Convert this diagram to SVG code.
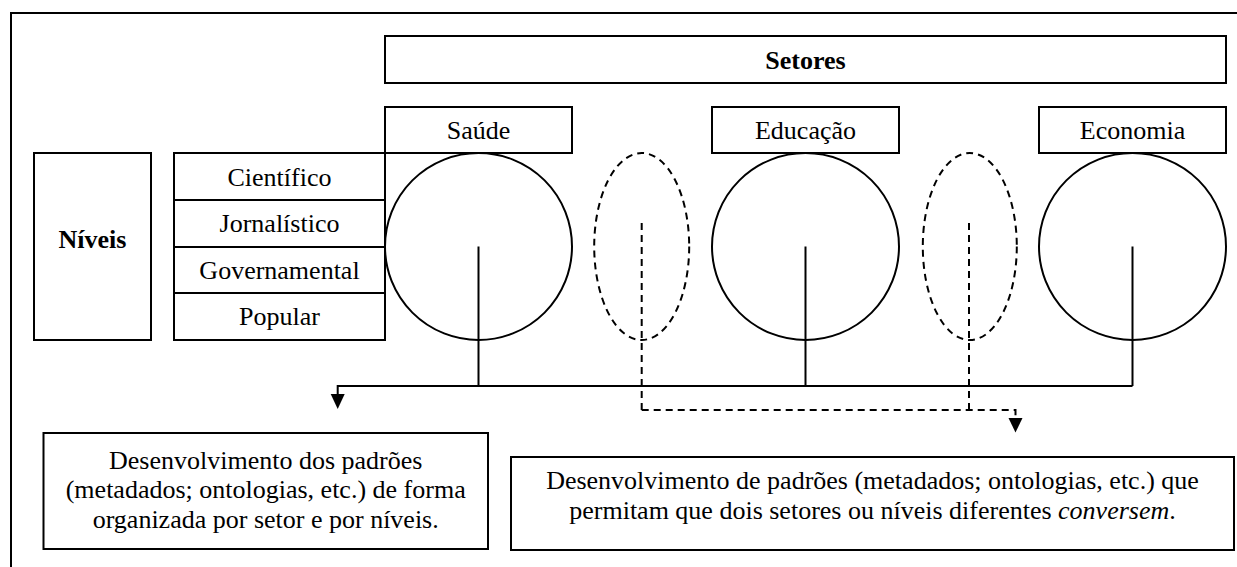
<svg xmlns="http://www.w3.org/2000/svg" width="1237" height="567" viewBox="0 0 1237 567">
<style>
  .box { fill: #ffffff; stroke: #000; stroke-width: 2; }
  .circ { fill: none; stroke: #000; stroke-width: 2; }
  .dash { fill: none; stroke: #000; stroke-width: 2; stroke-dasharray: 7 5; }
  .ln { fill: none; stroke: #000; stroke-width: 2; }
  .dln { fill: none; stroke: #000; stroke-width: 2; stroke-dasharray: 7 5; }
  .t { font-family: 'Liberation Serif', 'DejaVu Serif', serif; font-size: 26px; fill: #000; text-anchor: middle; }
  .b { font-weight: bold; }
</style>
<rect x="0" y="0" width="1237" height="567" fill="#ffffff"/>
<g id="frame">
  <path d="M11,580 L11,13 L1250,13" class="ln"/>
</g>
<g id="setores">
  <rect x="385" y="36" width="841" height="47" class="box"/>
  <text x="805.5" y="69" class="t b" font-family="Liberation Serif">Setores</text>
</g>
<g id="niveis">
  <rect x="34" y="153" width="117" height="187" class="box"/>
  <text x="92.5" y="248" class="t b" font-family="Liberation Serif">Níveis</text>
</g>
<g id="nivel-cientifico">
  <rect x="174" y="153" width="211" height="47" class="box"/>
  <text x="279.5" y="185.5" class="t" font-family="Liberation Serif">Científico</text>
</g>
<g id="nivel-jornalistico">
  <rect x="174" y="200" width="211" height="47" class="box"/>
  <text x="279.5" y="232" class="t" font-family="Liberation Serif">Jornalístico</text>
</g>
<g id="nivel-governamental">
  <rect x="174" y="247" width="211" height="46" class="box"/>
  <text x="279.5" y="278.5" class="t" font-family="Liberation Serif">Governamental</text>
</g>
<g id="nivel-popular">
  <rect x="174" y="293" width="211" height="47" class="box"/>
  <text x="279.5" y="325" class="t" font-family="Liberation Serif">Popular</text>
</g>
<g id="saude">
  <rect x="385" y="107" width="187" height="46" class="box"/>
  <text x="478.5" y="139" class="t" font-family="Liberation Serif">Saúde</text>
  <circle cx="478.5" cy="246.5" r="93.5" class="circ"/>
</g>
<g id="educacao">
  <rect x="712" y="107" width="187" height="46" class="box"/>
  <text x="805.5" y="139" class="t" font-family="Liberation Serif">Educação</text>
  <circle cx="805.5" cy="246.5" r="93.5" class="circ"/>
</g>
<g id="economia">
  <rect x="1039" y="107" width="187" height="46" class="box"/>
  <text x="1132.5" y="139" class="t" font-family="Liberation Serif">Economia</text>
  <circle cx="1132.5" cy="246.5" r="93.5" class="circ"/>
</g>
<g id="ponte-1">
  <ellipse cx="641.7" cy="246.5" rx="47.5" ry="93.5" class="dash"/>
</g>
<g id="ponte-2">
  <ellipse cx="969.8" cy="246.5" rx="47" ry="93.5" class="dash"/>
</g>
<g id="connectors">
  <path d="M478.5,246.5 V386 M805.5,246.5 V386 M1132.5,246.5 V386 M1132.5,386 H337.7 V395" class="ln"/>
  <polygon points="330.7,394 344.7,394 337.7,409" fill="#000"/>
  <path d="M641.7,223 V410 M969,223 V410 M641.7,410 H1015.5 V419" class="dln"/>
  <polygon points="1008.5,418 1022.5,418 1015.5,432.5" fill="#000"/>
</g>
<g id="padroes-setor">
  <rect x="43.5" y="433" width="444.5" height="116" class="box"/>
  <text x="265.7" y="468.5" class="t" font-family="Liberation Serif">Desenvolvimento dos padrões</text>
  <text x="265.7" y="498" class="t" font-family="Liberation Serif">(metadados; ontologias, etc.) de forma</text>
  <text x="265.7" y="527.5" class="t" font-family="Liberation Serif">organizada por setor e por níveis.</text>
</g>
<g id="padroes-conversa">
  <rect x="511" y="457" width="723" height="93" class="box"/>
  <text x="872.5" y="489" class="t" font-family="Liberation Serif">Desenvolvimento de padrões (metadados; ontologias, etc.) que</text>
  <text x="872.5" y="518.5" class="t" font-family="Liberation Serif">permitam que dois setores ou níveis diferentes <tspan font-style="italic">conversem</tspan>.</text>
</g>
</svg>
